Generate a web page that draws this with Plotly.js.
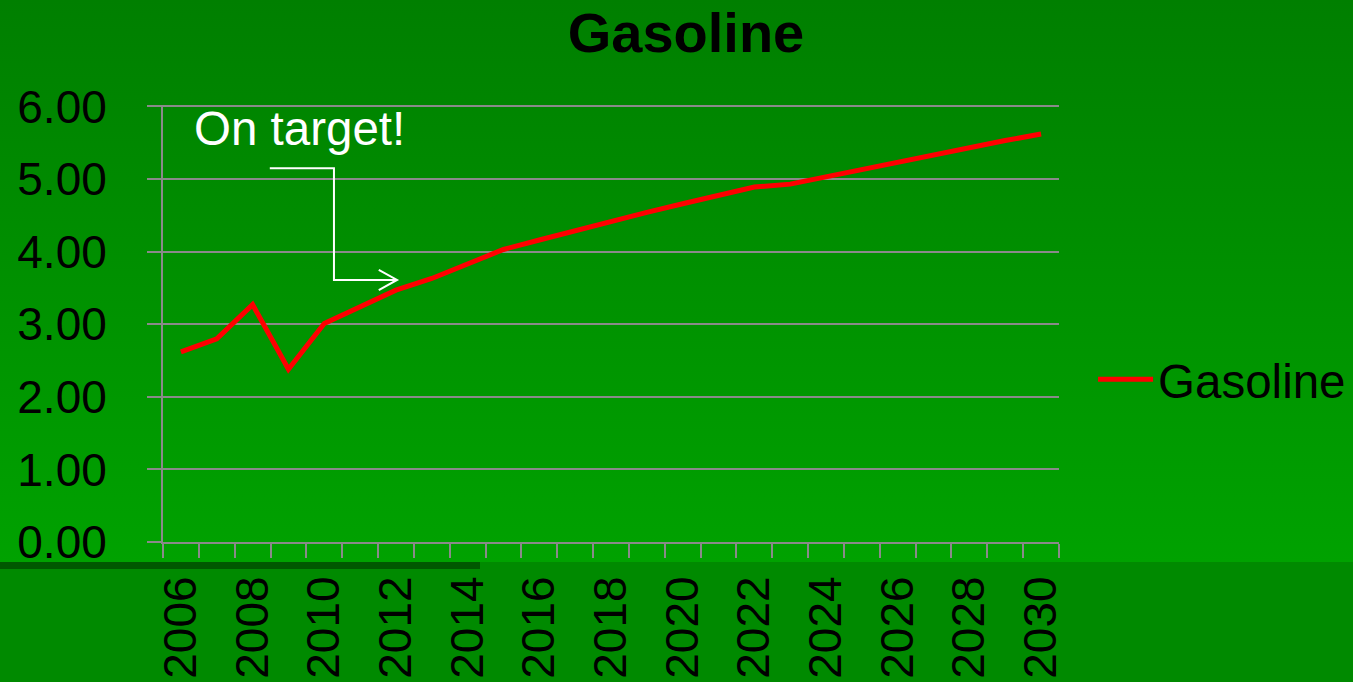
<!DOCTYPE html>
<html>
<head>
<meta charset="utf-8">
<script src="https://cdn.plot.ly/plotly-3.0.1.min.js"></script>
<style>
  html, body { margin: 0; padding: 0; }
  #wrap { position: relative; width: 1353px; height: 682px; overflow: hidden;
    background: linear-gradient(to bottom, #007f00 0px, #00a200 562px, #008a00 562px, #008a00 682px); }
  #bar { position: absolute; left: 0; top: 562px; width: 480px; height: 7px; background: #005800; }
  #chart { position: absolute; left: 0; top: 0; width: 1353px; height: 682px; }
</style>
</head>
<body>
<div id="wrap"><div id="bar"></div><div id="chart"></div></div>
<script>
const years = [2006, 2007, 2008, 2009, 2010, 2011, 2012, 2013, 2014, 2015, 2016, 2017, 2018,
               2019, 2020, 2021, 2022, 2023, 2024, 2025, 2026, 2027, 2028, 2029, 2030];
const gasoline = [2.62, 2.80, 3.27, 2.38, 3.01, 3.24, 3.47, 3.63, 3.83, 4.03, 4.16, 4.29, 4.42,
                  4.54, 4.66, 4.78, 4.89, 4.93, 5.03, 5.13, 5.23, 5.33, 5.44, 5.53, 5.62];
const tickYears = [2006, 2008, 2010, 2012, 2014, 2016, 2018, 2020, 2022, 2024, 2026, 2028, 2030];
const tickLabels = tickYears.map(String);
const seriesName = 'Gasoline';
const chartTitle = 'Gasoline';
const noteText = 'On target!';

const FONT = 'Liberation Sans, Arial, sans-serif';
const GRID = '#8a8a8a';

const trace = {
  x: years, y: gasoline, type: 'scatter', mode: 'lines', name: seriesName,
  line: { color: '#ff0000', width: 5 }
};

const layout = {
  width: 1353, height: 682,
  paper_bgcolor: 'rgba(0,0,0,0)', plot_bgcolor: 'rgba(0,0,0,0)',
  margin: { l: 163, r: 294, t: 105, b: 140, pad: 0, autoexpand: false },
  font: { family: FONT, color: '#000000', size: 46 },
  title: {
    text: chartTitle, font: { family: FONT, size: 56, weight: 'bold', color: '#000000' },
    xref: 'container', yref: 'container', x: 0.507, y: 0.953, xanchor: 'center', yanchor: 'middle'
  },
  showlegend: true,
  legend: {
    x: 1.038, y: 0.372, xanchor: 'left', yanchor: 'middle', bgcolor: 'rgba(0,0,0,0)',
    font: { family: FONT, size: 47.5, color: '#000000' }, itemwidth: 55
  },
  xaxis: {
    range: [2005.5, 2030.5], showgrid: false, zeroline: false,
    showline: true, linecolor: GRID, linewidth: 2,
    tickmode: 'array', tickvals: tickYears, ticktext: tickLabels,
    tickangle: -90, ticks: '', ticklabelstandoff: 14,
    tickfont: { family: FONT, size: 46, color: '#000000' },
    minor: { tickmode: 'linear', tick0: 2005.5, dtick: 1, ticks: 'outside', ticklen: 14,
             tickcolor: GRID, tickwidth: 2, showgrid: false }
  },
  yaxis: {
    range: [0, 6.02], tickmode: 'linear', tick0: 0, dtick: 1, tickformat: '.2f',
    showgrid: true, gridcolor: GRID, gridwidth: 2, zeroline: false,
    showline: true, linecolor: GRID, linewidth: 2,
    ticks: 'outside', ticklen: 14, tickcolor: GRID, tickwidth: 2,
    ticklabelstandoff: 31,
    tickfont: { family: FONT, size: 46, color: '#000000' }
  },
  annotations: [{
    text: noteText, x: 2009.32, y: 5.70, xref: 'x', yref: 'y', showarrow: false,
    xanchor: 'center', yanchor: 'middle',
    font: { family: FONT, size: 47.5, color: '#ffffff' }
  }],
  shapes: [
    { type: 'path', xref: 'x', yref: 'y', path: 'M2008.48,5.15 L2010.27,5.15 L2010.27,3.61 L2012.03,3.61',
      line: { color: '#ffffff', width: 2 } },
    { type: 'path', xref: 'x', yref: 'y', path: 'M2011.52,3.75 L2012.03,3.61 L2011.52,3.47',
      line: { color: '#ffffff', width: 2 } }
  ]
};

Plotly.newPlot('chart', [trace], layout, { displayModeBar: false, staticPlot: true });
</script>
</body>
</html>
